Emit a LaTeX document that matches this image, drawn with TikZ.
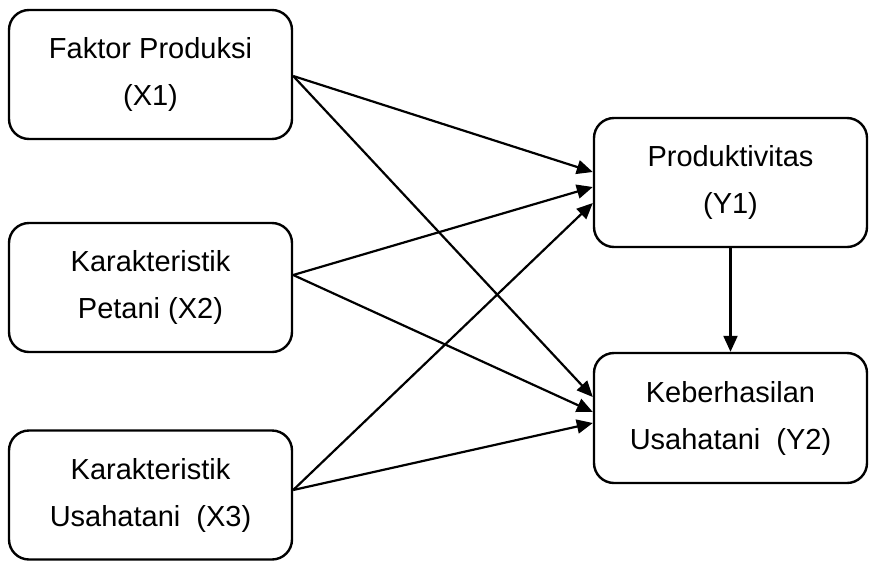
\documentclass[tikz,border=0pt]{standalone}
\usepackage{fontspec}
\setmainfont{Liberation Sans}
\usepackage{tikz}
\usetikzlibrary{arrows.meta}

\begin{document}
\begin{tikzpicture}[x=1pt, y=-1pt,
        var/.style={draw=black, line width=2.4pt, rounded corners=20pt, align=center, inner sep=0pt,
                    minimum width=283pt, minimum height=129pt, font=\fontsize{29}{47}\selectfont},
        arr/.style={line width=2.2pt, -{Triangle[length=16pt, width=14pt]}}]
         \useasboundingbox (0,0) rectangle (870,563);
         \node[var] (x1) at (150.5,74.5) {Faktor Produksi\\(X1)};
         \node[var] (x2) at (150.5,287.5) {Karakteristik\\Petani (X2)};
         \node[var] (x3) at (150.5,495) {Karakteristik\\Usahatani~ (X3)};
         \node[var, minimum width=273pt] (y1) at (730.5,182.5) {Produktivitas\\(Y1)};
         \node[var, minimum width=273pt, minimum height=130pt] (y2) at (730.5,418) {Keberhasilan\\Usahatani~ (Y2)};

         \draw[arr] ([yshift=-1.5pt]x1.east) -- ([yshift=10.5pt]y1.west);
         \draw[arr] ([yshift=-1.5pt]x1.east) -- ([yshift=21pt]y2.west);
         \draw[arr] ([yshift=12.5pt]x2.east) -- ([yshift=-4.5pt]y1.west);
         \draw[arr] ([yshift=12.5pt]x2.east) -- ([yshift=6pt]y2.west);
         \draw[arr] ([yshift=5pt]x3.east) -- ([yshift=-20.5pt]y1.west);
         \draw[arr] ([yshift=5pt]x3.east) -- ([yshift=-5pt]y2.west);
         \draw[arr] (y1) -- (y2);
    \end{tikzpicture}
\end{document}
